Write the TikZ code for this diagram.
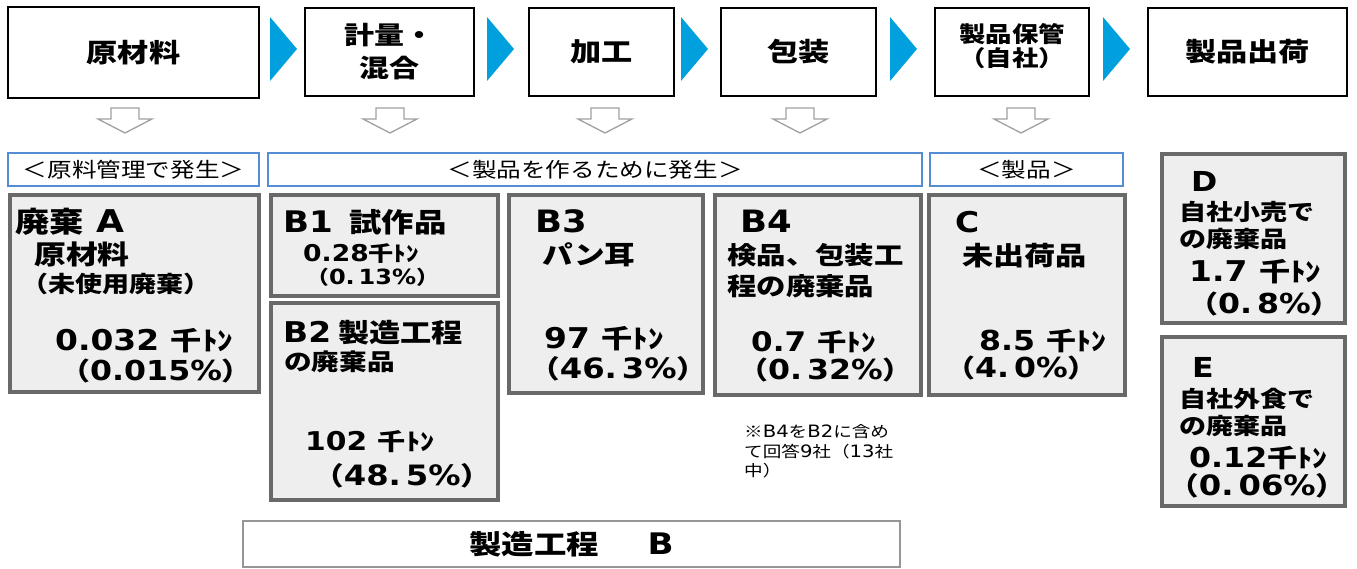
\documentclass[tikz,border=0pt]{standalone}
\usepackage{fontspec}
\newfontfamily\jp{Noto Sans CJK JP}[FakeStretch=1.2]
\newfontfamily\lt{DejaVu Sans}[Scale=1.1,FakeStretch=1.15]
\newcommand\fs[1]{\fontsize{#1}{#1}\selectfont}
\newcommand\gap{\hspace{0.45em}}
\newcommand\ps{\hspace{0.18em}}
\definecolor{chevc}{RGB}{0,160,222}
\definecolor{lblue}{RGB}{84,141,212}
\definecolor{dgray}{RGB}{105,105,105}
\definecolor{lfill}{RGB}{238,238,238}
\definecolor{agray}{RGB}{160,160,160}
\definecolor{bgray}{RGB}{150,150,150}
\begin{document}
\begin{tikzpicture}[x=1pt,y=-1pt,
  topbox/.style={draw=black,line width=1.6pt,fill=white,inner sep=0pt,align=center,font=\jp\bfseries\fs{26}},
  lbl/.style={draw=lblue,line width=1.2pt,fill=white,inner sep=0pt,font=\jp\mdseries\fs{20.5}},
  databox/.style={draw=dgray,line width=3.5pt,fill=lfill,inner sep=0pt},
  t/.style={inner sep=0pt,anchor=base west,font=\jp\bfseries},
  nt/.style={inner sep=0pt,anchor=base west,font=\jp\mdseries\fs{15.5}},
  chev/.style={fill=chevc},
  arr/.style={draw=agray,line width=1.3pt,fill=white,line join=miter},
  dnarr/.pic={\draw[arr] (-14,0) -- (14,0) -- (14,11) -- (27,11) -- (0,25) -- (-27,11) -- (-14,11) -- cycle;}
]
\useasboundingbox (0,0) rectangle (1357,569);
\fill[white] (0,0) rectangle (1357,569);

% top process boxes
\node[topbox,minimum width=251pt,minimum height=91pt] (t1) at (133.5,52.5) {原材料};
\node[topbox,minimum width=169pt,minimum height=88pt,font=\jp\bfseries\fontsize{25}{33}\selectfont] (t2) at (389.5,52) {計量・\\混合};
\node[topbox,minimum width=145pt,minimum height=88pt] (t3) at (601.5,52) {加工};
\node[topbox,minimum width=155pt,minimum height=88pt] (t4) at (798.5,52) {包装};
\node[topbox,minimum width=154pt,minimum height=88pt] (t5) at (1012,52) {};
\node[inner sep=0pt,align=center,font=\jp\bfseries\fontsize{22}{24}\selectfont] (t5txt) at (1012,46) {製品保管\\（自社）};
\node[topbox,minimum width=199pt,minimum height=88pt] (t6) at (1247.5,52) {製品出荷};

% chevrons
\fill[chev] (270,17) -- (297,49) -- (270,81) -- cycle;
\fill[chev] (487,17) -- (514,49) -- (487,81) -- cycle;
\fill[chev] (681,17) -- (708,49) -- (681,81) -- cycle;
\fill[chev] (890,17) -- (917,49) -- (890,81) -- cycle;
\fill[chev] (1103,17) -- (1130,49) -- (1103,81) -- cycle;

% down arrows
\pic at (125,108) {dnarr};
\pic at (390,108) {dnarr};
\pic at (605,108) {dnarr};
\pic at (800,108) {dnarr};
\pic at (1021,108) {dnarr};

% category labels
\node[lbl,minimum width=251pt,minimum height=33pt] (l1) at (133.5,169.5) {＜原料管理で発生＞};
\node[lbl,minimum width=654pt,minimum height=33pt] (l2) at (595,169.5) {＜製品を作るために発生＞};
\node[lbl,minimum width=193pt,minimum height=33pt] (l3) at (1026.5,169.5) {＜製品＞};

% data boxes
\node[databox,minimum width=249pt,minimum height=197pt] (A) at (134.5,293.5) {};
\node[databox,minimum width=227pt,minimum height=101pt] (B1) at (384.5,245.5) {};
\node[databox,minimum width=227pt,minimum height=197pt] (B2) at (384.5,401.5) {};
\node[databox,minimum width=194pt,minimum height=198pt] (B3) at (606,294) {};
\node[databox,minimum width=206pt,minimum height=200pt] (B4) at (818,295) {};
\node[databox,minimum width=196pt,minimum height=200pt] (C) at (1027,295) {};
\node[databox,minimum width=183pt,minimum height=169pt] (D) at (1253.5,238.5) {};
\node[databox,minimum width=183pt,minimum height=169pt] (E) at (1253.5,421.5) {};

% A
\node[t] (a1) at (15,233) {\fs{28.5}廃棄{\lt\ A}};
\node[t] (a2) at (34,265) {\fs{26.5}原材料};
\node[t] (a3) at (21,293) {\fs{22.5}（未使用廃棄）};
\node[t] (a4) at (55,350) {\fs{26}{\lt 0.032}\gap 千ﾄﾝ};
\node[t] (a5) at (60,380) {\fs{25}（{\lt 0.015\%}）};

% B1
\node[t] (b11) at (283,233) {\fs{27}{\lt B1}\hspace{0.6em}試作品};
\node[t] (b12) at (303,262) {\fs{21}{\lt 0.28}千ﾄﾝ};
\node[t] (b13) at (306,285) {\fs{19}（{\lt 0.\ps 13\%}）};

% B2
\node[t] (b21) at (283,342) {\fs{26}{\lt B2} 製造工程};
\node[t] (b22) at (284,370) {\fs{23}の廃棄品};
\node[t] (b23) at (305,450) {\fs{23.5}{\lt 102}\gap 千ﾄﾝ};
\node[t] (b24) at (313,485) {\fs{25.5}（{\lt 48.\ps 5\%}）};

% B3
\node[t] (b31) at (535,233) {\fs{28}{\lt B3}};
\node[t] (b32) at (542,265) {\fs{25.5}パン耳};
\node[t] (b33) at (544,348) {\fs{26}{\lt 97}\gap 千ﾄﾝ};
\node[t] (b34) at (529,378) {\fs{25.5}（{\lt 46.\ps 3\%}）};

% B4
\node[t] (b41) at (740,233) {\fs{28}{\lt B4}};
\node[t] (b42) at (727,265) {\fs{24.5}検品、包装工};
\node[t] (b43) at (727,296) {\fs{24.5}程の廃棄品};
\node[t] (b44) at (751,351) {\fs{24.5}{\lt 0.7}\gap 千ﾄﾝ};
\node[t] (b45) at (738,379) {\fs{25}（{\lt 0.\ps 32\%}）};

% note
\node[nt] (n1) at (744,437) {※{\lt B4}を{\lt B2}に含め};
\node[nt] (n2) at (744,457) {て回答{\lt 9}社（{\lt 13}社};
\node[nt] (n3) at (744,476) {中）};

% C
\node[t] (c1) at (955,233) {\fs{26}{\lt C}};
\node[t] (c2) at (962,266) {\fs{26}未出荷品};
\node[t] (c3) at (979,350) {\fs{25}{\lt 8.5}\gap 千ﾄﾝ};
\node[t] (c4) at (945,377) {\fs{25}（{\lt 4.\ps 0\%}）};

% D
\node[t] (d1) at (1191,192) {\fs{25}{\lt D}};
\node[t] (d2) at (1179,221) {\fs{22.5}自社小売で};
\node[t] (d3) at (1179,248) {\fs{22.5}の廃棄品};
\node[t] (d4) at (1189,282) {\fs{26}{\lt 1.7}\gap 千ﾄﾝ};
\node[t] (d5) at (1188,313) {\fs{25}（{\lt 0.\ps 8\%}）};

% E
\node[t] (e1) at (1192,377) {\fs{25}{\lt E}};
\node[t] (e2) at (1179,407) {\fs{22.5}自社外食で};
\node[t] (e3) at (1179,434) {\fs{22.5}の廃棄品};
\node[t] (e4) at (1189,467) {\fs{25}{\lt 0.12}千ﾄﾝ};
\node[t] (e5) at (1168,495) {\fs{25.5}（{\lt 0.\ps 06\%}）};

% bottom
\node[draw=bgray,line width=1.2pt,fill=white,inner sep=0pt,minimum width=657pt,minimum height=46pt,font=\jp\bfseries\fs{27}] (bot) at (571.5,544) {製造工程\hspace{1.8em}{\lt B}};
\end{tikzpicture}
\end{document}
